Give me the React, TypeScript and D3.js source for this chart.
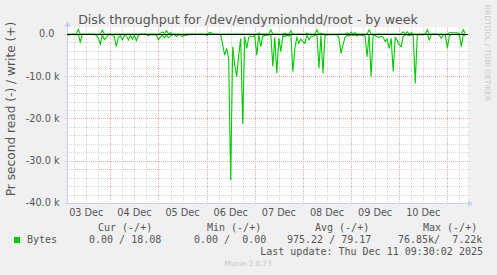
import React from 'react';
import * as d3 from 'd3';

// Read (drawn negative) and write (drawn positive) in kB/s, hourly samples from 03 Dec 03:00 UTC
const readK = [
  0.3,0.2,0.1,0.1,0.2,0,1.9,0.2,0.1,0.1,
  0.1,0.1,0.1,0.1,0.3,1.0,2.4,0.2,1.3,0.8,
  0.2,0.1,0.2,0.6,3.0,0.8,0.4,1.4,0.3,0.5,
  1.4,0.3,1.2,0.3,1.6,0.3,0.1,0.1,0.1,0.1,
  0.5,0.1,0.2,0.1,0.3,1.4,0.7,0.3,0.9,0.2,
  0.9,0.5,0.2,0.2,0.6,0.2,0.3,0.6,0.2,0.4,
  0.1,0.1,0.1,0.1,0.1,0.1,0.1,0.1,0.1,0.3,
  0.1,0,0.1,0.1,0.1,0.1,0.1,2.5,5.0,3.4,
  5.8,34.6,3.0,7.3,10.1,5.0,1.0,21.3,0.6,3.4,
  0.8,0.5,0.6,0.4,5.0,0.1,3.0,0.5,0.4,0.3,
  0.3,0,7.7,0.8,9.3,1.0,4.2,0.4,0.6,0.3,
  0.5,0,8.9,3.4,0.8,2.2,1.2,1.8,2.2,0.1,
  1.4,0.5,0.6,0.3,0,8.1,0.3,9.3,0.4,0.2,
  0.2,0.2,0.2,0.2,0.2,1.0,4.6,2.6,0.8,0.3,
  0.5,0.2,0.4,0.2,0.5,0.2,0.3,0.4,0.5,5.4,
  0,10.1,0.3,0.4,0.6,0.8,0.5,0.8,1.8,1.2,
  3.4,1.0,8.9,0.8,1.5,2.6,3.0,0.5,0.3,0.2,
  0.4,0.2,0.4,11.7,0.3,0.2,0.1,0.2,0.1,0,
  1.4,0.1,0.1,0.1,0.1,0.3,1.0,0.3,0.2,3.4,
  0.5,0.1,0.1,0.1,0.1,0.3,3.0,0,0.5,
];
const writeK = [
  0,0,0,0,0,1.1,0,0,0,0,
  0,0,0,0,0,0,0,0.9,0,0,
  0,0,0,0,0,0,0,0,0,0,
  0,0,0,0,0,0,0,0,0,0,
  0,0,0,0,0,0,0.2,0.5,0,0.8,
  0,0.3,0,0,0,0,0,0,0,0,
  0,0,0,0,0,0,0,0,0,0,
  0.2,0.4,0,0,0,0,0,0,0,0,
  0,0,0,0,0,0,0,0,0,0,
  0,0,0,0,0,0.2,0,0,0,0,
  0,1.0,0,0,0,0,0,0,0.2,0,
  0,0.7,0,0,0,0,0,0,0,0.2,
  0,0,0,0,1.0,0,0.2,0,0,0,
  0,0,0,0,0,0,0,0,0,0.2,
  0,0.4,0,0.3,0,0,0,0,0,0,
  1.0,0,0,0,0,0,0,0,0,0,
  0,0,0,0,0,0,0,0.5,0,0.5,
  0,0.3,0,0,0,0,0,0,0,1.0,
  0,0,0,0,0,0,0,0,0,0,
  0.3,0.3,0.3,0.3,0.3,0,0,1.0,0,
];
const sampleStart = Date.UTC(2025, 11, 3, 3, 0);
const sampleStepMs = 3600 * 1000;

const yTickValues = [0, -10000, -20000, -30000, -40000];
const yTickLabels = ['0.0', '-10.0 k', '-20.0 k', '-30.0 k', '-40.0 k'];
const dayLabels = ['03 Dec', '04 Dec', '05 Dec', '06 Dec', '07 Dec', '08 Dec', '09 Dec', '10 Dec'];
const legendHeaders = ['Cur (-/+)', 'Min (-/+)', 'Avg (-/+)', 'Max (-/+)'];
const legendValues = ['0.00 / 18.08', '0.00 /  0.00', '975.22 / 79.17', '76.85k/  7.22k'];
const seriesName = 'Bytes';
const titleText = 'Disk throughput for /dev/endymionhdd/root - by week';
const yAxisTitle = 'Pr second read (-) / write (+)';
const lastUpdate = 'Last update: Thu Dec 11 09:30:02 2025';
const version = 'Munin 2.0.73';
const sideText = 'RRDTOOL / TOBI OETIKER';

const W = 497, H = 275;
const L = 67, R = 468, T = 27, B = 203;
const GREEN = '#00cc00';
const TXT = '#555555';
const AXIS = '#c6ccf4';
const MINOR = '#d4d4d4';
const MAJOR = '#e8a8a8';
const SANS = '"DejaVu Sans", Verdana, sans-serif';
const MONO = '"DejaVu Sans Mono", monospace';

export default function App() {
  const x = d3.scaleUtc()
    .domain([new Date(Date.UTC(2025, 11, 3, 2, 24)), new Date(Date.UTC(2025, 11, 11, 10, 18))])
    .range([L, R]);
  const y = d3.scaleLinear().domain([-40000, 1650]).range([B, T]);

  const times = readK.map((_, i) => new Date(sampleStart + i * sampleStepMs));
  const line = d3.line<[Date, number]>().x(d => x(d[0])).y(d => y(d[1]));
  const readPath = line(times.map((t, i) => [t, -readK[i] * 1000]))!;
  const writePath = line(times.map((t, i) => [t, writeK[i] * 1000]))!;

  const [d0, d1] = x.domain();
  const sixHours = d3.utcHour.every(6)!.range(d0, d1);
  const days = d3.utcDay.range(d0, d1);
  const minorY = d3.range(-40000, 1, 2000);

  const dayStarts = d3.utcDay.range(new Date(Date.UTC(2025, 11, 3)), new Date(Date.UTC(2025, 11, 11)));

  return (
    <svg width={W} height={H} style={{ position: 'absolute', left: 0, top: 0 }} fontFamily={SANS}>
      <rect x={0} y={0} width={W} height={H} fill="#f0f0f0" />
      <rect x={L} y={T} width={R - L} height={B - T} fill="#ffffff" />

      {/* minor grid */}
      {sixHours.map((t, i) => (
        <line key={'mv' + i} x1={Math.round(x(t)) + 0.5} x2={Math.round(x(t)) + 0.5} y1={T} y2={B + 2}
          stroke={MINOR} strokeDasharray="1,1" />
      ))}
      {minorY.map((v, i) => (
        <line key={'mh' + i} x1={L - 2} x2={R + 2} y1={Math.round(y(v)) + 0.5} y2={Math.round(y(v)) + 0.5}
          stroke={MINOR} strokeDasharray="1,1" />
      ))}
      {/* major grid */}
      {days.map((t, i) => (
        <line key={'Mv' + i} x1={Math.round(x(t)) + 0.5} x2={Math.round(x(t)) + 0.5} y1={T} y2={B + 2}
          stroke={MAJOR} strokeDasharray="1,1" />
      ))}
      {yTickValues.map((v, i) => (
        <line key={'Mh' + i} x1={L - 2} x2={R + 2} y1={Math.round(y(v)) + 0.5} y2={Math.round(y(v)) + 0.5}
          stroke={MAJOR} strokeDasharray="1,1" />
      ))}

      {/* axes */}
      <line x1={L + 0.5} x2={L + 0.5} y1={T - 1} y2={B} stroke={AXIS} />
      <line x1={L} x2={R + 1} y1={B + 0.5} y2={B + 0.5} stroke={AXIS} />
      <polygon points={`${L - 2.5},${T - 0.5} ${L + 3.5},${T - 0.5} ${L + 0.5},${T - 5.5}`} fill={AXIS} />
      <polygon points={`${R},${B - 2.5} ${R},${B + 3.5} ${R + 5},${B + 0.5}`} fill={AXIS} />

      {/* data */}
      <path d={readPath} fill="none" stroke={GREEN} strokeWidth={1.1} />
      <path d={writePath} fill="none" stroke={GREEN} strokeWidth={1.1} />
      <line x1={L} x2={R} y1={Math.round(y(0)) + 0.5} y2={Math.round(y(0)) + 0.5} stroke="#000000" strokeWidth={1} />

      {/* y ticks */}
      {yTickValues.map((v, i) => (
        <text key={'yt' + i} x={v === 0 ? 54.5 : 59.5} y={y(v)} dy="0.35em" textAnchor="end" fontSize={9.7} fill={TXT}>
          {yTickLabels[i]}
        </text>
      ))}
      {/* x labels */}
      {dayStarts.map((t, i) => (
        <text key={'xt' + i} x={x(new Date(t.getTime() + 12 * 3600 * 1000))} y={216} textAnchor="middle" fontSize={9.7} fill={TXT}>
          {dayLabels[i]}
        </text>
      ))}

      {/* title & labels */}
      <text x={248} y={24} textAnchor="middle" fontSize={12.6} fill={TXT}>{titleText}</text>
      <text transform={`translate(14.5,109) rotate(-90)`} textAnchor="middle" fontSize={12.2} fill={TXT}>{yAxisTitle}</text>
      <text transform={`translate(485,53) rotate(90)`} textAnchor="middle" fontSize={7.5} fill="#c8c8c8">{sideText}</text>

      {/* legend */}
      <g fontFamily={MONO} fontSize={10} fill={TXT}>
        {legendHeaders.map((h, i) => (
          <text key={'lh' + i} x={[98, 207, 315, 423][i]} y={231} xmlSpace="preserve" style={{ whiteSpace: 'pre' }}>{h}</text>
        ))}
        <rect x={14} y={237} width={6} height={6} fill={GREEN} />
        <text x={27} y={243}>{seriesName}</text>
        {legendValues.map((v, i) => (
          <text key={'lv' + i} x={[89, 194, 287, 398][i]} y={243} xmlSpace="preserve" style={{ whiteSpace: 'pre' }}>{v}</text>
        ))}
        <text x={483} y={255} textAnchor="end">{lastUpdate}</text>
      </g>
      <text x={248} y={266} textAnchor="middle" fontSize={7.2} fill="#c4c4c4">{version}</text>
    </svg>
  );
}
